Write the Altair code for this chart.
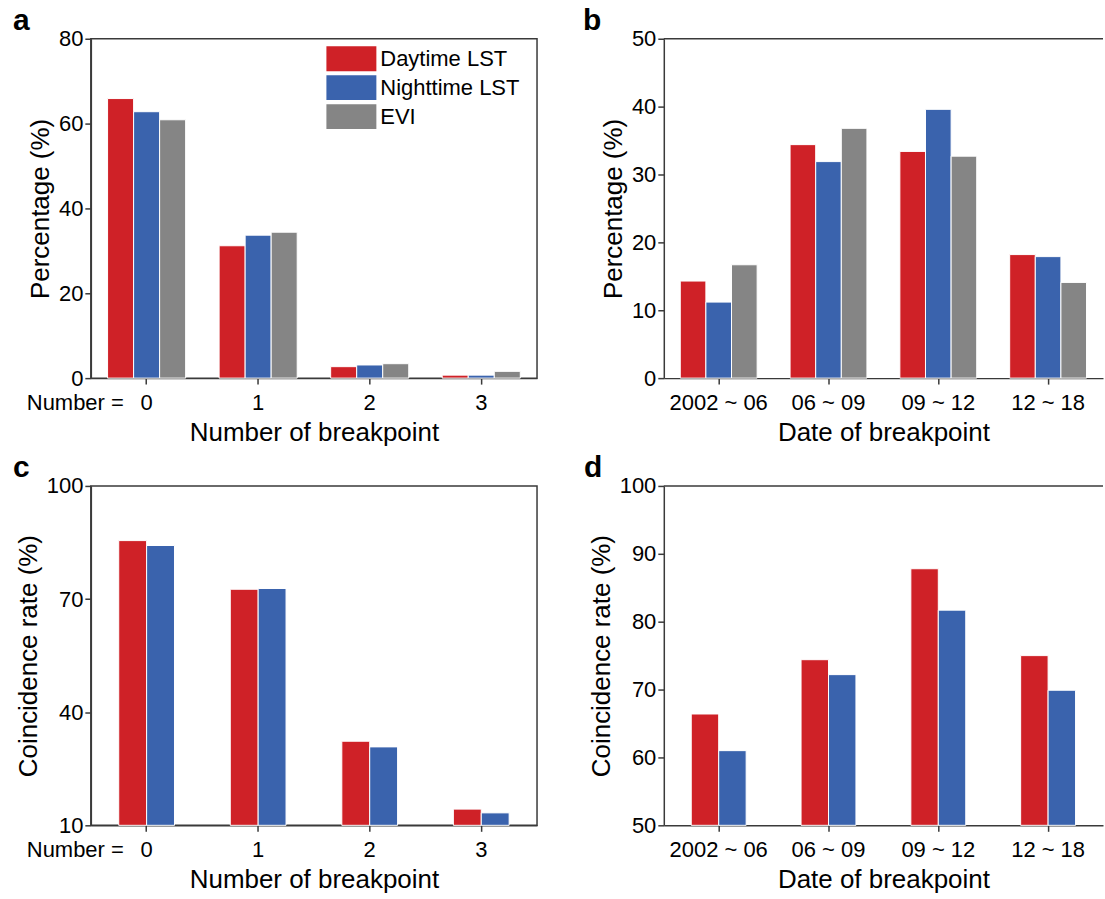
import altair as alt
import pandas as pd

# ---------------- data ----------------
series3 = ["Daytime LST", "Nighttime LST", "EVI"]
series2 = ["Daytime LST", "Nighttime LST"]
series_colors = ["#CF2127", "#3A63AD", "#858585"]

number_cats = ["0", "1", "2", "3"]
date_cats = ["2002 ~ 06", "06 ~ 09", "09 ~ 12", "12 ~ 18"]

# panel a: percentage by number of breakpoints
a_day = [65.9, 31.2, 2.7, 0.7]
a_night = [62.8, 33.7, 3.1, 0.7]
a_evi = [60.9, 34.4, 3.4, 1.6]

# panel b: percentage by date of breakpoint
b_day = [14.3, 34.4, 33.4, 18.2]
b_night = [11.2, 31.9, 39.6, 17.9]
b_evi = [16.7, 36.8, 32.7, 14.1]

# panel c: coincidence rate by number of breakpoints
c_day = [85.5, 72.6, 32.3, 14.3]
c_night = [84.2, 72.8, 30.8, 13.3]

# panel d: coincidence rate by date of breakpoint
d_day = [66.4, 74.4, 87.8, 75.0]
d_night = [61.0, 72.2, 81.7, 69.9]

a_ticks = [0, 20, 40, 60, 80]
b_ticks = [0, 10, 20, 30, 40, 50]
c_ticks = [10, 40, 70, 100]
d_ticks = [50, 60, 70, 80, 90, 100]

FONT = "Liberation Sans, Arial, sans-serif"
AXIS_COLOR = "#3a3a3a"
W_LEFT = 447
W_RIGHT = 440
H = 340


def table(cats, names, value_lists):
    rows = []
    for name, vals in zip(names, value_lists):
        for c, v in zip(cats, vals):
            rows.append({"cat": c, "series": name, "value": v})
    return pd.DataFrame(rows)


def panel(df, cats, names, ymin, ymax, yticks, ytitle, xtitle, letter,
          width, pad_inner, number_prefix, legend, full_frame, letter_dx):
    common = dict(domainColor=AXIS_COLOR, tickColor=AXIS_COLOR, domainWidth=1.5,
                  tickWidth=1.5, tickSize=6, labelFontSize=22, titleFontSize=26,
                  labelFont=FONT, titleFont=FONT, labelColor="black",
                  titleColor="black", titleFontWeight="normal", grid=False)
    if number_prefix:
        x_axis = alt.Axis(
            title=xtitle, labelAngle=0, labelPadding=8, titlePadding=6,
            labelOverlap=False,
            labelExpr="datum.value == '0' ? 'Number =\u00a0\u00a0\u2009' + datum.label : datum.label",
            labelAlign={"condition": {"test": "datum.value == '0'", "value": "right"}, "value": "center"},
            labelOffset={"condition": {"test": "datum.value == '0'", "value": 6}, "value": 0},
            **common,
        )
    else:
        x_axis = alt.Axis(title=xtitle, labelAngle=0, labelPadding=8, titlePadding=6,
                          labelOverlap=False, **common)
    y_axis = alt.Axis(title=ytitle, values=yticks, labelPadding=2, titlePadding=5,
                      **common)
    cscale = alt.Scale(domain=names, range=series_colors[:len(names)])
    if legend:
        color = alt.Color("series:N", scale=cscale, legend=alt.Legend(
            orient="none", legendX=236, legendY=7, title=None, padding=0,
            symbolType="M-1,-0.96H2.85V0.96H-1Z", symbolSize=676,
            symbolStrokeWidth=0, symbolOpacity=1,
            labelFontSize=22, labelFont=FONT, labelColor="black",
            labelOffset=28, rowPadding=3, labelLimit=300))
    else:
        color = alt.Color("series:N", scale=cscale, legend=None)

    bars = alt.Chart(df).mark_bar(stroke="white", strokeWidth=1).encode(
        x=alt.X("cat:N", sort=cats,
                scale=alt.Scale(paddingInner=pad_inner, paddingOuter=pad_inner / 2),
                axis=x_axis),
        xOffset=alt.XOffset("series:N", sort=names,
                            scale=alt.Scale(paddingInner=0, paddingOuter=0)),
        y=alt.Y("value:Q", scale=alt.Scale(domain=[ymin, ymax], nice=False, zero=False),
                axis=y_axis),
        y2=alt.datum(ymin),
        color=color,
    )
    title = alt.TitleParams(text=letter, anchor="start", frame="group", dx=letter_dx,
                            fontSize=30, fontWeight="bold", font=FONT, color="black",
                            offset=-8)
    if full_frame:
        return bars.properties(width=width, height=H, title=title,
                               view=alt.ViewBackground(stroke=AXIS_COLOR, strokeWidth=1.5))
    top_edge = alt.Chart(pd.DataFrame({"edge": [0]})).mark_rule(
        color=AXIS_COLOR, strokeWidth=1.5).encode(
        x=alt.value(0), x2=alt.value(width), y=alt.value(0))
    return alt.layer(bars, top_edge).properties(
        width=width, height=H, title=title,
        view=alt.ViewBackground(stroke="transparent"))


pa = panel(table(number_cats, series3, [a_day, a_night, a_evi]), number_cats, series3,
           0, 80, a_ticks, "Percentage (%)", "Number of breakpoint", "a",
           W_LEFT, 0.30, True, True, True, -78)
pb = panel(table(date_cats, series3, [b_day, b_night, b_evi]), date_cats, series3,
           0, 50, b_ticks, "Percentage (%)", "Date of breakpoint", "b",
           W_RIGHT, 0.30, False, False, False, -81)
pc = panel(table(number_cats, series2, [c_day, c_night]), number_cats, series2,
           10, 100, c_ticks, "Coincidence rate (%)", "Number of breakpoint", "c",
           W_LEFT, 0.50, True, False, True, -78)
pd_ = panel(table(date_cats, series2, [d_day, d_night]), date_cats, series2,
            50, 100, d_ticks, "Coincidence rate (%)", "Date of breakpoint", "d",
            W_RIGHT, 0.50, False, False, False, -80)

chart = alt.concat(pa, pb, pc, pd_, columns=2,
                   spacing={"row": 108, "column": 127}).properties(
    bounds="flush",
    background="white",
    padding={"left": 12, "top": 4, "right": 0, "bottom": 0},
).resolve_scale(
    x="independent", y="independent", color="independent", xOffset="independent"
).resolve_axis(
    x="independent", y="independent"
).resolve_legend(
    color="independent"
)

chart.save("out.html", embed_options={"renderer": "svg", "actions": False})
